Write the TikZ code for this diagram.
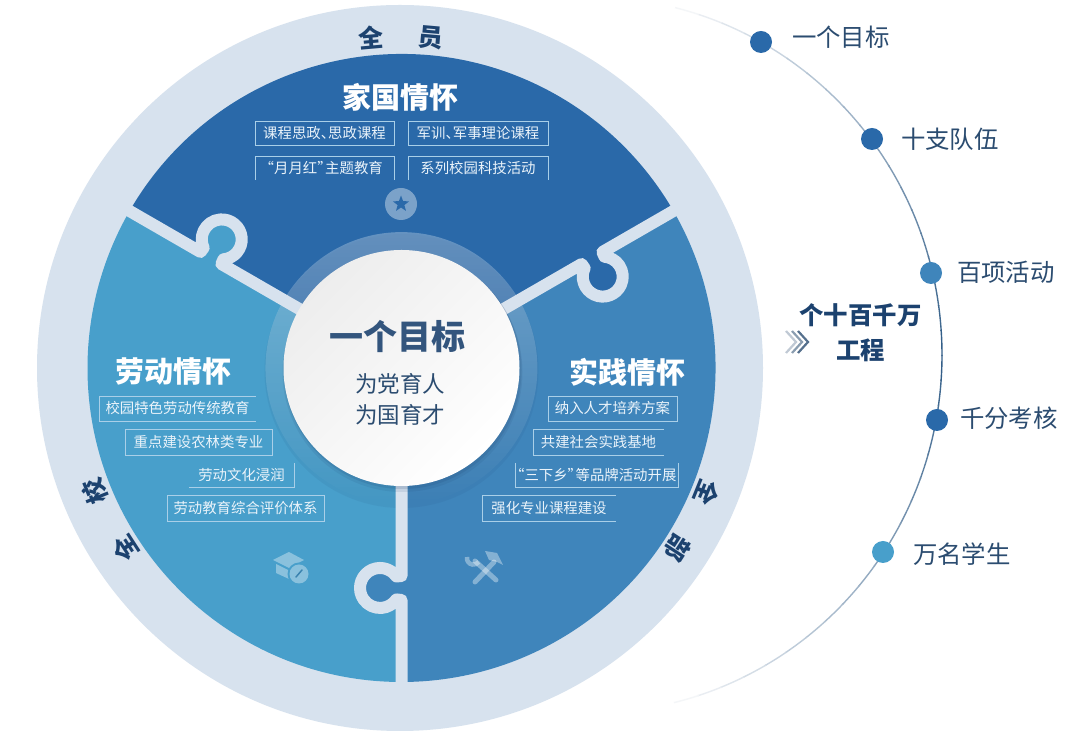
\documentclass[tikz,border=0pt]{standalone}
\usepackage{fontspec}
\setmainfont{Noto Sans CJK SC}
\usetikzlibrary{shapes.geometric, fadings, positioning}
\definecolor{ringblue}{HTML}{D7E2EE}
\definecolor{topblue}{HTML}{2A69A9}
\definecolor{leftblue}{HTML}{489FCB}
\definecolor{rightblue}{HTML}{3F85BB}
\definecolor{navy}{HTML}{1C426F}
\definecolor{inktext}{HTML}{2B4C70}
\definecolor{framelight}{HTML}{A9CFE8}
\definecolor{taglight}{HTML}{EAF3FA}
\definecolor{arcline}{HTML}{2F5B86}

\newcommand{\px}[1]{\fontsize{#1}{#1}\selectfont}

\begin{document}
\begin{tikzpicture}[
    x=1pt, y=1pt,
    every node/.style={inner sep=0pt, outer sep=0pt},
    heading/.style={font=\px{29}\bfseries, text=white},
    tag/.style={font=\px{14.4}, text=taglight, minimum height=#1, align=center},
    tag/.default=25pt,
    fullframe/.style={draw=framelight, line width=0.9pt},
    frameline/.style={draw=framelight, line width=0.9pt},
    ringword/.style={font=\px{25}\bfseries, text=navy},
    dot/.style={circle, minimum size=22pt},
    pointword/.style={font=\px{24.4}, text=inktext},
    iconpale/.style={line width=5pt, line cap=round}
]
\useasboundingbox (0,0) rectangle (1080,736);
\fill[white] (0,0) rectangle (1080,736);

% Outer line
\begin{scope}[shift={(590,381)}]
\foreach \t in {76,72,...,-72} {
    \pgfmathsetmacro{\p}{100-97*abs(\t-2)/76}
    \draw[arcline!\p!white, line width=1.4pt] (\t:352 and 358) arc[start angle=\t, end angle=\t-4.2, x radius=352, y radius=358];
}
\end{scope}

% Ring and sectors
\fill[ringblue] (400,368) circle[radius=363];
\begin{scope}[shift={(401.5,368)}]
\fill[leftblue] (0,0) -- (-90:314) arc[start angle=-90, end angle=-210, radius=314] -- cycle;
\fill[topblue] (0,0) -- (150:314) arc[start angle=150, end angle=30, radius=314] -- cycle;
\fill[rightblue] (0,0) -- (30:314) arc[start angle=30, end angle=-90, radius=314] -- cycle;
% Halo
\fill[navy, opacity=0.08] (0,-3) circle[radius=137];
\fill[white, opacity=0.28, path fading=south] (0,0) circle[radius=136];
% Puzzle joints
\foreach \r/\c in {0/rightblue, -120/leftblue, -240/topblue} {
    \begin{scope}[rotate=\r]
    \fill[\c] (-21.5,-220) circle[radius=20];
    \fill[\c] (-21.5,-226) rectangle (7,-214);
    \draw[ringblue, line width=12pt, line join=round, line cap=round]
        (0,-100) -- (0,-208) -- (-5.1,-208.5) arc[start angle=35, end angle=325, radius=20] -- (0,-232) -- (0,-322);
    \end{scope}
}
\fill[navy, opacity=0.1] (1,-4) circle[radius=120];
\fill[navy, opacity=0.14] (1,-2) circle[radius=119];
\end{scope}

% Centre
\node[circle, minimum size=236pt, top color=black!7, bottom color=white, shading angle=45] (hub) at (401.5,368) {};
\node[font=\px{34}\bfseries, text=navy!90!white] (goal) at (397,399) {一个目标};
\node[font=\px{22.5}, text=inktext] (party) at (400,352) {为党育人};
\node[font=\px{22.5}, text=inktext, below=10.5pt of party] (nation) {为国育才};

% Ring words
\node[ringword, rotate=5] (quan) at (371,698) {全};
\node[ringword, rotate=-5] (yuan) at (431,698) {员};
\node[ringword, rotate=123] (whole) at (125,188) {全};
\node[ringword, rotate=112] (school) at (95,244) {校};
\node[ringword, rotate=-112] (all) at (707,243) {全};
\node[ringword, rotate=-123] (part) at (678,188) {部};

% Top sector
\node[heading] (home) at (400,639) {家国情怀};
\node[tag=24pt, minimum width=139pt, fullframe] (t1) at (324.5,603) {课程思政、\kern-7pt思政课程};
\node[tag=24pt, minimum width=140pt, fullframe] (t2) at (478,603) {军训、\kern-7pt军事理论课程};
\node[tag=24pt, minimum width=139pt] (t3) at (324.5,568) {\kern-6.5pt“月月红”\kern-6.5pt主题教育};
\node[tag=24pt, minimum width=140pt] (t4) at (478,568) {系列校园科技活动};
\foreach \n in {t3,t4}
    \draw[frameline] (\n.south west) -- (\n.north west) -- (\n.north east) -- (\n.south east);
\node[circle, fill=white, fill opacity=0.38, minimum size=32pt] (badge) at (401,532) {};
\node[star, star points=5, star point ratio=2.4, fill=topblue, minimum size=17pt] (badgestar) at (401,532) {};

% Left sector
\node[heading] (labour) at (173,364) {劳动情怀};
\node[tag=25pt, minimum width=157pt] (l1) at (177.5,327.5) {校园特色劳动传统教育};
\node[tag=26pt, minimum width=147pt, fullframe] (l2) at (198.5,294) {重点建设农林类专业};
\node[tag=24pt, minimum width=105pt] (l3) at (241.5,261) {劳动文化浸润};
\node[tag=26pt, minimum width=157pt, fullframe] (l4) at (245.5,228) {劳动教育综合评价体系};
\draw[frameline] (l1.north east) -- (l1.north west) -- (l1.south west) -- (l1.south east);
\draw[frameline] (l3.north east) -- (l3.south east) -- (l3.south west);

% Right sector
\node[heading] (practice) at (627,364) {实践情怀};
\node[tag=25pt, minimum width=129pt, fullframe] (r1) at (612.5,327.5) {纳入人才培养方案};
\node[tag=26pt, minimum width=131pt] (r2) at (598.5,294) {共建社会实践基地};
\node[tag=24pt, minimum width=163pt] (r3) at (596.5,261) {\kern-6.5pt“三下乡”\kern-6.5pt等品牌活动开展};
\node[tag=26pt, minimum width=134pt] (r4) at (549,228) {强化专业课程建设};
\draw[frameline] (r2.north east) -- (r2.north west) -- (r2.south west) -- (r2.south east);
\draw[frameline] (r3.north west) -- (r3.south west) -- (r3.south east) -- (r3.north east);
\draw[frameline] (r4.north east) -- (r4.north west) -- (r4.south west) -- (r4.south east);

% Icons
\fill[white, opacity=0.36] (273,176) -- (289,184) -- (304,176) -- (289,168) -- cycle;
\fill[white, opacity=0.36] (276,172) -- (289,165.5) -- (301,172) -- (301,163) -- (289,157) -- (276,163) -- cycle;
\fill[leftblue] (299,162) circle[radius=11.5];
\fill[white, opacity=0.36] (299,162) circle[radius=9.5];
\draw[leftblue!70!navy, line width=1.5pt, line cap=round] (296,159) -- (302,166);
\begin{scope}[white, opacity=0.36]
\draw[iconpale] (475,175) -- (496,156);
\draw[iconpale] (494,174) -- (475,154);
\draw[line width=4.5pt] (467,179) arc[start angle=170, end angle=325, radius=6.5];
\fill (485,185) -- (497,183) -- (503,171) -- (497,174) -- (489,176) -- cycle;
\end{scope}

% Right side
\node[font=\px{24.4}\bfseries, text=navy] (plan) at (860.5,421) {个十百千万};
\node[font=\px{24.4}\bfseries, text=navy] (work) at (860.5,386) {工程};
\foreach \x/\o in {786/30, 792/55, 798/80}
    \draw[inktext!\o!white, line width=2.2pt] (\x,405) -- (\x+10,394) -- (\x,383);

% Points
\node[dot, fill=topblue] (p1) at (761,694) {};
\node[dot, fill=topblue] (p2) at (872,597) {};
\node[dot, fill=rightblue] (p3) at (931,463) {};
\node[dot, fill=topblue] (p4) at (937,316) {};
\node[dot, fill=leftblue] (p5) at (883,184) {};
\node[pointword, right=20pt of p1, yshift=5pt] (n1) {一个目标};
\node[pointword, right=18pt of p2] (n2) {十支队伍};
\node[pointword, right=15pt of p3, yshift=1pt] (n3) {百项活动};
\node[pointword, right=12pt of p4, yshift=2pt] (n4) {千分考核};
\node[pointword, right=19pt of p5, yshift=-2pt] (n5) {万名学生};

\end{tikzpicture}
\end{document}
